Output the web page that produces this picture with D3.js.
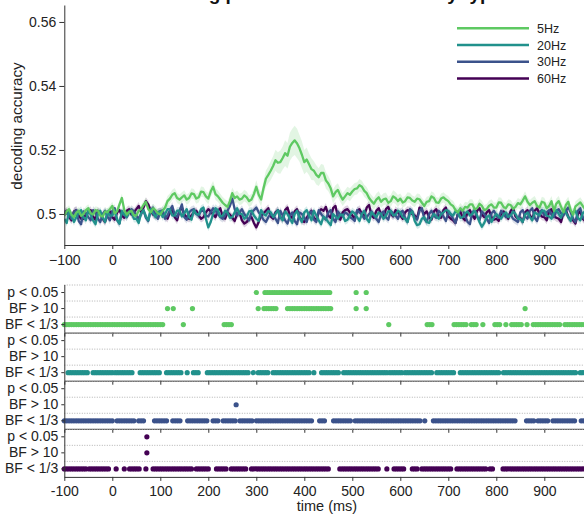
<!DOCTYPE html>
<html><head><meta charset="utf-8">
<script src="https://cdn.jsdelivr.net/npm/d3@7"></script>
<style>
html,body{margin:0;padding:0;background:#fff;overflow:hidden}
svg{display:block;font-family:"Liberation Sans",Arial,Helvetica,sans-serif}
</style></head><body>
<svg id="chart" width="584" height="515"></svg>
<script>
// ---------- data ----------
const seriesNames = ["5Hz","20Hz","30Hz","60Hz"];
const seriesColors = ["#5ec962","#21918c","#3b528b","#440154"];
const rowLabels = ["p < 0.05","BF > 10","BF < 1/3"];
const xTickValues = [-100,0,100,200,300,400,500,600,700,800,900];
const yTickValues = [0.5,0.52,0.54,0.56];
const timeStart = -100, timeStep = 5, semStep = 10;

const acc5 = [
0.4995,0.5008,0.5015,0.4998,0.4990,0.5004,0.5010,0.4994,0.5000,0.5012,
0.5018,0.5002,0.4998,0.5012,0.5010,0.4995,0.4992,0.5008,0.5005,0.5015,
0.5025,0.5002,0.5008,0.5030,0.5050,0.5012,0.4998,0.5006,0.5010,0.4996,
0.4995,0.5010,0.5015,0.5028,0.5038,0.5015,0.5005,0.5018,0.5012,0.5002,
0.4998,0.5010,0.5020,0.5040,0.5048,0.5060,0.5065,0.5050,0.5045,0.5052,
0.5058,0.5045,0.5050,0.5064,0.5062,0.5048,0.5052,0.5070,0.5068,0.5055,
0.5048,0.5070,0.5085,0.5062,0.5055,0.5045,0.5035,0.5028,0.5022,0.5040,
0.5065,0.5050,0.5055,0.5045,0.5048,0.5058,0.5052,0.5040,0.5045,0.5062,
0.5085,0.5060,0.5045,0.5080,0.5110,0.5122,0.5135,0.5150,0.5168,0.5160,
0.5162,0.5175,0.5190,0.5182,0.5210,0.5222,0.5230,0.5220,0.5205,0.5185,
0.5162,0.5170,0.5155,0.5140,0.5135,0.5122,0.5115,0.5128,0.5128,0.5105,
0.5095,0.5080,0.5055,0.5068,0.5075,0.5058,0.5045,0.5055,0.5065,0.5060,
0.5070,0.5078,0.5080,0.5090,0.5085,0.5072,0.5065,0.5050,0.5040,0.5032,
0.5045,0.5052,0.5038,0.5046,0.5048,0.5035,0.5040,0.5055,0.5050,0.5040,
0.5048,0.5036,0.5040,0.5052,0.5050,0.5042,0.5038,0.5048,0.5046,0.5035,
0.5025,0.5038,0.5040,0.5055,0.5050,0.5036,0.5035,0.5048,0.5052,0.5045,
0.5040,0.5030,0.5025,0.5012,0.5005,0.5018,0.5010,0.5022,0.5020,0.5030,
0.5030,0.5015,0.5018,0.5032,0.5025,0.5012,0.5015,0.5026,0.5030,0.5020,
0.5020,0.5036,0.5035,0.5022,0.5018,0.5030,0.5028,0.5016,0.5022,0.5034,
0.5030,0.5042,0.5055,0.5038,0.5028,0.5035,0.5040,0.5025,0.5020,0.5038,
0.5035,0.5018,0.5025,0.5040,0.5010,0.5032,0.5040,0.5022,0.5005,0.5028,
0.5038,0.5012,0.4998,0.5024,0.5030,0.5036,0.5025,0.5015,0.5010,0.5022];
const sem5 = [
0.0012,0.0012,0.0012,0.0012,0.0012,0.0012,0.0012,0.0012,0.0012,0.0012,
0.0013,0.0013,0.0013,0.0013,0.0013,0.0013,0.0013,0.0013,0.0013,0.0013,
0.0016,0.0016,0.0016,0.0016,0.0016,0.0016,0.0016,0.0016,0.0016,0.0016,
0.0018,0.0018,0.0018,0.0018,0.0018,0.0018,0.0018,0.0018,0.0018,0.0018,
0.0020,0.0022,0.0026,0.0030,0.0033,0.0036,0.0040,0.0044,0.0046,0.0042,
0.0038,0.0034,0.0030,0.0028,0.0026,0.0024,0.0022,0.0021,0.0020,0.0020,
0.0019,0.0019,0.0019,0.0019,0.0019,0.0019,0.0019,0.0019,0.0019,0.0019,
0.0016,0.0016,0.0016,0.0016,0.0016,0.0016,0.0016,0.0016,0.0016,0.0016,
0.0016,0.0016,0.0016,0.0016,0.0016,0.0016,0.0016,0.0016,0.0016,0.0016,
0.0016,0.0016,0.0016,0.0016,0.0016,0.0016,0.0016,0.0016,0.0016,0.0016,
0.0016,0.0016,0.0016,0.0016,0.0016,0.0016,0.0016,0.0016,0.0016,0.0016];
const acc20 = [
0.4985,0.4972,0.5010,0.4995,0.4975,0.4990,0.5005,0.5012,0.4990,0.4980,
0.5012,0.4998,0.4980,0.4968,0.5000,0.5010,0.4988,0.4975,0.5008,0.4995,
0.4995,0.5012,0.4982,0.4970,0.5010,0.4998,0.4990,0.5008,0.5005,0.4985,
0.4985,0.4972,0.5002,0.5012,0.4992,0.4980,0.5015,0.5002,0.4990,0.5005,
0.5008,0.4990,0.5000,0.5015,0.5015,0.4995,0.4995,0.5010,0.5010,0.4992,
0.5002,0.5015,0.4990,0.4982,0.5012,0.5000,0.4998,0.5015,0.5020,0.4985,
0.4958,0.4975,0.5000,0.5018,0.5012,0.4992,0.4995,0.5010,0.5005,0.4988,
0.4990,0.5005,0.5018,0.5000,0.5000,0.4985,0.4992,0.5008,0.5010,0.4995,
0.4985,0.4978,0.5012,0.5000,0.4995,0.5010,0.5005,0.4990,0.5000,0.5012,
0.4990,0.4980,0.5008,0.5000,0.4985,0.4972,0.5000,0.5010,0.4988,0.4975,
0.5005,0.5012,0.4995,0.4980,0.5010,0.4995,0.4980,0.4968,0.4992,0.4985,
0.4975,0.4965,0.5000,0.4992,0.4985,0.4998,0.4998,0.4978,0.4982,0.4995,
0.5008,0.5002,0.4990,0.4978,0.5000,0.5010,0.4985,0.4975,0.5005,0.4998,
0.4990,0.5005,0.5000,0.4985,0.4995,0.5008,0.5010,0.4995,0.4998,0.5010,
0.5005,0.4990,0.4985,0.4975,0.5000,0.5008,0.4978,0.4965,0.4968,0.4985,
0.4990,0.4975,0.4972,0.4988,0.5000,0.4992,0.4985,0.5000,0.5005,0.5012,
0.5010,0.5000,0.4995,0.5008,0.5005,0.4988,0.4990,0.5002,0.5008,0.4995,
0.5000,0.5012,0.4995,0.4975,0.4960,0.4972,0.4990,0.4995,0.4975,0.4990,
0.5000,0.4992,0.4985,0.4998,0.5005,0.4990,0.4995,0.5008,0.5000,0.4985,
0.4985,0.4975,0.4998,0.5005,0.4990,0.4980,0.5005,0.5000,0.4995,0.5010,
0.5010,0.4995,0.4992,0.4985,0.5005,0.5012,0.5000,0.4988,0.5012,0.5005,
0.4990,0.4978,0.5005,0.5010,0.4988,0.4980,0.5002,0.5008,0.4995,0.4985];
const acc30 = [
0.5010,0.5002,0.4995,0.4985,0.5005,0.5012,0.4978,0.4968,0.5008,0.5000,
0.4990,0.4980,0.5012,0.5005,0.4985,0.4975,0.5000,0.5010,0.4992,0.4980,
0.5010,0.5018,0.4980,0.4970,0.5005,0.5000,0.4990,0.5005,0.5015,0.5008,
0.4995,0.4985,0.5000,0.5012,0.4988,0.4978,0.5010,0.5020,0.4995,0.4985,
0.5005,0.5012,0.4985,0.4995,0.5012,0.5025,0.4998,0.4990,0.5008,0.5030,
0.4990,0.4982,0.5005,0.5012,0.5015,0.5000,0.4995,0.5010,0.5010,0.4995,
0.4992,0.5005,0.5018,0.5010,0.5000,0.4990,0.4985,0.4995,0.5010,0.5025,
0.5048,0.5015,0.4995,0.5005,0.5015,0.5000,0.4990,0.4980,0.5005,0.5012,
0.5020,0.5005,0.4995,0.4982,0.4975,0.4990,0.5000,0.4995,0.4985,0.4972,
0.5010,0.4995,0.4980,0.4970,0.4995,0.5005,0.4978,0.4968,0.5005,0.5000,
0.4988,0.4975,0.5000,0.5008,0.4982,0.4975,0.5012,0.5000,0.4990,0.4982,
0.5005,0.5012,0.4985,0.4975,0.5008,0.4998,0.4992,0.5005,0.5000,0.4990,
0.4985,0.4978,0.5012,0.5005,0.4998,0.4985,0.4990,0.5000,0.5008,0.4995,
0.4985,0.4975,0.5000,0.5008,0.4990,0.4982,0.5010,0.5002,0.4995,0.4985,
0.5005,0.5010,0.4988,0.4975,0.5015,0.5008,0.4990,0.4982,0.5010,0.5018,
0.4985,0.4975,0.5000,0.5010,0.4995,0.4988,0.5010,0.5002,0.4992,0.4978,
0.5005,0.4998,0.4985,0.4972,0.5000,0.5012,0.5012,0.4995,0.4975,0.4968,
0.5005,0.5012,0.4990,0.4980,0.5008,0.5000,0.4985,0.4972,0.5002,0.5010,
0.4995,0.4988,0.5010,0.5000,0.4990,0.4998,0.4998,0.4985,0.4980,0.4975,
0.5005,0.5012,0.4992,0.4985,0.5010,0.5018,0.4988,0.4978,0.5005,0.5012,
0.4995,0.5005,0.5012,0.4998,0.4990,0.5008,0.5015,0.5002,0.4995,0.5010,
0.5020,0.5005,0.4985,0.4975,0.5010,0.5018,0.4990,0.4982,0.5008,0.4998];
const acc60 = [
0.5000,0.5010,0.4990,0.4980,0.5008,0.5012,0.4995,0.4985,0.4985,0.4998,
0.5005,0.5012,0.4992,0.4982,0.5010,0.5000,0.4985,0.4975,0.5000,0.5008,
0.4990,0.4982,0.5005,0.5012,0.4995,0.4988,0.5010,0.5015,0.4998,0.5005,
0.5015,0.5025,0.5005,0.5020,0.5040,0.5030,0.5010,0.4998,0.4995,0.5005,
0.5008,0.5000,0.4992,0.4985,0.5005,0.5012,0.4990,0.4980,0.5010,0.5020,
0.4998,0.4990,0.4985,0.4995,0.5005,0.5010,0.4995,0.4985,0.4990,0.5005,
0.5015,0.5008,0.4998,0.4990,0.5010,0.5018,0.4992,0.4985,0.5005,0.4998,
0.4988,0.4978,0.5000,0.5005,0.4980,0.4970,0.4975,0.4985,0.4990,0.4972,
0.4958,0.4975,0.4995,0.5002,0.5010,0.5018,0.4992,0.4985,0.5005,0.5012,
0.4990,0.4982,0.5012,0.5020,0.4995,0.4988,0.5008,0.5015,0.4990,0.4980,
0.4975,0.4988,0.5000,0.5010,0.4988,0.4980,0.5005,0.5015,0.5010,0.5022,
0.4995,0.4988,0.5018,0.5025,0.4990,0.4982,0.5005,0.5012,0.5015,0.5005,
0.4995,0.4985,0.5008,0.5015,0.5000,0.4995,0.5020,0.5028,0.4995,0.4988,
0.5010,0.5018,0.4998,0.4990,0.5015,0.5022,0.5000,0.4992,0.5012,0.5005,
0.4995,0.4985,0.5005,0.5012,0.5010,0.5000,0.4995,0.4985,0.5020,0.5012,
0.5000,0.5008,0.4990,0.4982,0.5008,0.5015,0.4995,0.4988,0.5012,0.5020,
0.4992,0.4985,0.4980,0.4972,0.5000,0.5008,0.4988,0.4980,0.5005,0.5012,
0.4995,0.4985,0.5010,0.5018,0.4998,0.4990,0.5005,0.5012,0.4990,0.4982,
0.4985,0.4978,0.5000,0.5008,0.4995,0.4985,0.5010,0.5018,0.4992,0.4985,
0.4988,0.4975,0.5005,0.5012,0.4995,0.4985,0.5010,0.5018,0.5000,0.4992,
0.4990,0.4980,0.5008,0.5015,0.4995,0.4988,0.4985,0.4975,0.5005,0.5012,
0.4990,0.4982,0.4980,0.4970,0.5000,0.5008,0.4985,0.4978,0.5005,0.5010];
const semOther = 0.0012;

// significance dots: runs of consecutive time points [start, end] in ms
const p5 = [[300,300],[318,455],[508,508],[529,529]];
const bf10_5 = [[115,115],[127,127],[167,167],[304,304],[316,343],[365,456],[508,508],[529,529],[860,860]];
const bfLow5 = [[-100,106],[148,148],[233,249],[576,576],[656,667],[712,738],[748,760],[772,772],[797,808],[820,820],[832,856],[864,864],[877,936],[943,990]];
const p20 = [];
const bf10_20 = [];
const bfLow20 = [[-92,-50],[-40,0],[6,42],[58,100],[113,144],[156,156],[169,183],[198,287],[294,294],[304,328],[335,410],[420,420],[436,474],[482,572],[578,603],[610,669],[676,715],[725,805],[815,965],[975,990]];
const p30 = [];
const bf10_30 = [[258,258]];
const bfLow30 = [[-100,0],[10,45],[55,68],[88,115],[126,143],[157,200],[210,221],[231,256],[266,294],[300,415],[432,443],[461,500],[506,641],[651,651],[669,842],[863,880],[887,911],[918,967],[977,990]];
const p60 = [[72,72]];
const bf10_60 = [[72,72]];
const bfLow60 = [[-100,-55],[-48,-6],[8,8],[25,25],[36,60],[70,70],[85,165],[175,200],[217,238],[248,280],[290,450],[474,558],[572,572],[587,611],[625,635],[645,707],[718,780],[787,795],[814,990]];
const dotStep = 5;

// ---------- build ----------
const accs = [acc5, acc20, acc30, acc60];
const sems = [sem5, null, null, null];
const dotRuns = [[p5,bf10_5,bfLow5],[p20,bf10_20,bfLow20],[p30,bf10_30,bfLow30],[p60,bf10_60,bfLow60]];

const svg = d3.select("#chart");
const textColor = "#222", axisColor = "#333";
const x = d3.scaleLinear().domain([-100,1000]).range([64.3,592.3]);
const y = d3.scaleLinear().domain([0.4903,0.5653]).range([245,5]);

// title (cut off at top in reference)
svg.append("text").attr("x",318).attr("y",-0.5).attr("text-anchor","middle")
  .attr("font-size",19).attr("font-weight","bold").attr("fill","#111")
  .text("Decoding performance over time by type");

svg.append("defs").append("clipPath").attr("id","clipTop")
  .append("rect").attr("x",64.3).attr("y",0).attr("width",600).attr("height",245);

const plot = svg.append("g").attr("clip-path","url(#clipTop)");
const drawOrder = [3,2,1,0];
function seriesData(i){
  return accs[i].map((v,k)=>{
    const t = timeStart + k*timeStep;
    const s = sems[i] ? sems[i][Math.min(sems[i].length-1, Math.floor((t-timeStart)/semStep))] : semOther;
    return {t, v, s};
  });
}
drawOrder.forEach(i=>{
  const area = d3.area().x(d=>x(d.t)).y0(d=>y(d.v-d.s)).y1(d=>y(d.v+d.s)).curve(d3.curveLinear);
  plot.append("path").datum(seriesData(i)).attr("d",area).attr("fill",seriesColors[i]).attr("fill-opacity",0.18).attr("stroke","none");
});
drawOrder.forEach(i=>{
  const line = d3.line().x(d=>x(d.t)).y(d=>y(d.v));
  plot.append("path").datum(seriesData(i)).attr("d",line).attr("fill","none")
    .attr("stroke",seriesColors[i]).attr("stroke-width",2.3).attr("stroke-linejoin","round");
});

function styleAxis(g, fs){
  g.select(".domain").attr("stroke",axisColor).attr("stroke-width",1);
  g.selectAll(".tick line").attr("stroke",axisColor);
  g.selectAll(".tick text").attr("fill",textColor).attr("font-size",fs).attr("font-family","Liberation Sans, Arial, sans-serif");
}

const gx = svg.append("g").attr("transform","translate(0,245)")
  .call(d3.axisBottom(x).tickValues(xTickValues).tickSize(4).tickSizeOuter(0).tickPadding(6));
styleAxis(gx,14);
const gy = svg.append("g").attr("transform","translate(64.3,0)")
  .call(d3.axisLeft(y).tickValues(yTickValues).tickFormat(d=> d===0.5 ? "0.5" : d3.format(".2f")(d)).tickSize(5).tickSizeOuter(0).tickPadding(3));
styleAxis(gy,14);

svg.append("text").attr("transform","translate(22,126) rotate(-90)").attr("text-anchor","middle")
  .attr("font-size",15.3).attr("fill",textColor).text("decoding accuracy");

// legend
seriesNames.forEach((n,i)=>{
  const ly = 28.3 + i*16.7;
  svg.append("line").attr("x1",457).attr("x2",529).attr("y1",ly).attr("y2",ly)
    .attr("stroke",seriesColors[i]).attr("stroke-width",2.5);
  svg.append("text").attr("x",537).attr("y",ly+4.5).attr("font-size",12.5).attr("fill",textColor).text(n);
});

// significance panels
const panelTop0 = 284.5, panelH = 48.1;
seriesNames.forEach((n,i)=>{
  const top = panelTop0 + i*panelH;
  const band = d3.scaleBand().domain(rowLabels).range([top, top+panelH]).padding(0);
  const g = svg.append("g");
  rowLabels.forEach(r=>{
    g.append("line").attr("x1",64.3).attr("x2",584).attr("y1",band(r)+0.5).attr("y2",band(r)+0.5)
      .attr("stroke","#b0b0b0").attr("stroke-width",1).attr("stroke-dasharray","1,1.5");
  });
  dotRuns[i].forEach((runs,ri)=>{
    const pts = [];
    runs.forEach(([s,e])=>{ for(let t=s; t<=e+0.001; t+=dotStep) pts.push(t); });
    g.selectAll(null).data(pts).enter().append("circle")
      .attr("cx",d=>x(d)).attr("cy",band(rowLabels[ri])+band.bandwidth()/2).attr("r",2.6)
      .attr("fill",seriesColors[i]);
  });
  const last = i===seriesNames.length-1;
  const ax = g.append("g").attr("transform",`translate(0,${top+panelH})`)
    .call(d3.axisBottom(x).tickValues(xTickValues).tickSize(4).tickSizeOuter(0).tickPadding(5)
      .tickFormat(last ? d=>d : ()=>""));
  styleAxis(ax,14);
  const ay = g.append("g").attr("transform","translate(64.3,0)")
    .call(d3.axisLeft(band).tickSize(3).tickSizeOuter(0).tickPadding(3));
  styleAxis(ay,14);
});

svg.append("text").attr("x",327).attr("y",511).attr("text-anchor","middle")
  .attr("font-size",14.5).attr("fill",textColor).text("time (ms)");
</script>
</body></html>
